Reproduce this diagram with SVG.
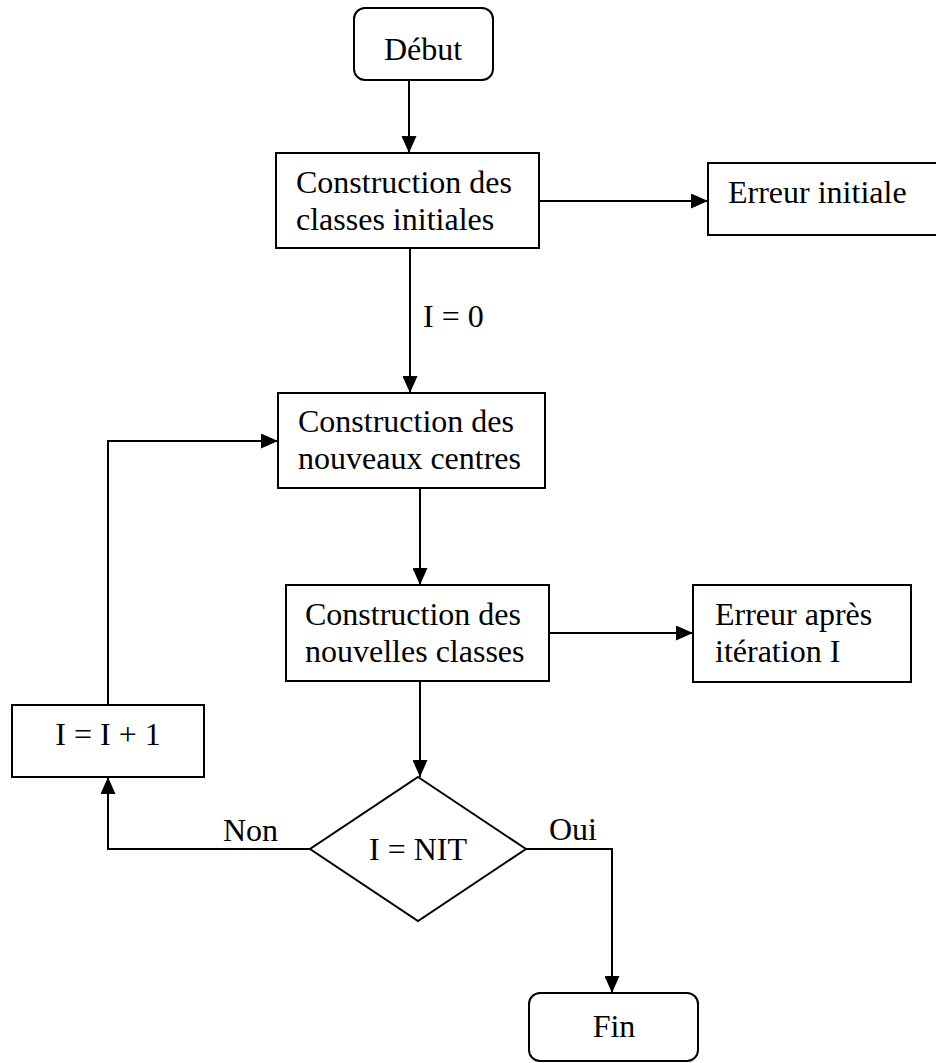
<svg xmlns="http://www.w3.org/2000/svg" width="936" height="1063" viewBox="0 0 936 1063">
<defs>
<marker id="arr" viewBox="0 0 17 15" refX="17" refY="7.5" markerWidth="17" markerHeight="15" markerUnits="userSpaceOnUse" orient="auto">
<path d="M0,0 L17,7.5 L0,15 Z" fill="#000"/>
</marker>
</defs>
<style>
.box{fill:#fff;stroke:#000;stroke-width:2}
.t{font-family:"Liberation Serif","Times New Roman",serif;font-size:32px;fill:#000}
.c{text-anchor:middle}
.ln{fill:none;stroke:#000;stroke-width:2}
</style>
<rect width="936" height="1063" fill="#fff"/>
<g id="connectors">
<line class="ln" x1="409" y1="80" x2="409" y2="153" marker-end="url(#arr)"/>
<line class="ln" x1="539" y1="201" x2="708" y2="201" marker-end="url(#arr)"/>
<line class="ln" x1="410" y1="248" x2="410" y2="393" marker-end="url(#arr)"/>
<text class="t" x="423" y="327">I = 0</text>
<line class="ln" x1="420" y1="488" x2="420" y2="585" marker-end="url(#arr)"/>
<line class="ln" x1="549" y1="633" x2="693" y2="633" marker-end="url(#arr)"/>
<line class="ln" x1="420" y1="681" x2="420" y2="777" marker-end="url(#arr)"/>
<polyline class="ln" points="310,849 108,849 108,777" marker-end="url(#arr)"/>
<text class="t" x="223" y="841">Non</text>
<polyline class="ln" points="526,849 612,849 612,993" marker-end="url(#arr)"/>
<text class="t" x="549" y="840">Oui</text>
<polyline class="ln" points="108,705 108,441 278,441" marker-end="url(#arr)"/>
</g>
<g id="debut">
<rect class="box" x="354" y="8" width="139" height="72" rx="11"/>
<text class="t c" x="423" y="60">Début</text>
</g>
<g id="construction-initiales">
<rect class="box" x="276" y="153" width="263" height="95"/>
<text class="t" x="296" y="193">Construction des</text>
<text class="t" x="296" y="230">classes initiales</text>
</g>
<g id="erreur-initiale">
<rect class="box" x="708" y="163" width="240" height="72"/>
<text class="t" x="728" y="203">Erreur initiale</text>
</g>
<g id="nouveaux-centres">
<rect class="box" x="278" y="393" width="267" height="95"/>
<text class="t" x="298" y="432">Construction des</text>
<text class="t" x="298" y="469">nouveaux centres</text>
</g>
<g id="nouvelles-classes">
<rect class="box" x="286" y="585" width="263" height="96"/>
<text class="t" x="305" y="625">Construction des</text>
<text class="t" x="305" y="662">nouvelles classes</text>
</g>
<g id="erreur-apres">
<rect class="box" x="693" y="585" width="218" height="97"/>
<text class="t" x="715" y="625">Erreur après</text>
<text class="t" x="715" y="662">itération I</text>
</g>
<g id="increment">
<rect class="box" x="12" y="705" width="192" height="72"/>
<text class="t c" x="108" y="745">I = I + 1</text>
</g>
<g id="decision">
<polygon class="box" points="418,777 526,849 418,921 310,849"/>
<text class="t c" x="418" y="860">I = NIT</text>
</g>
<g id="fin">
<rect class="box" x="529" y="993" width="169" height="68" rx="11"/>
<text class="t c" x="614" y="1037">Fin</text>
</g>
</svg>
